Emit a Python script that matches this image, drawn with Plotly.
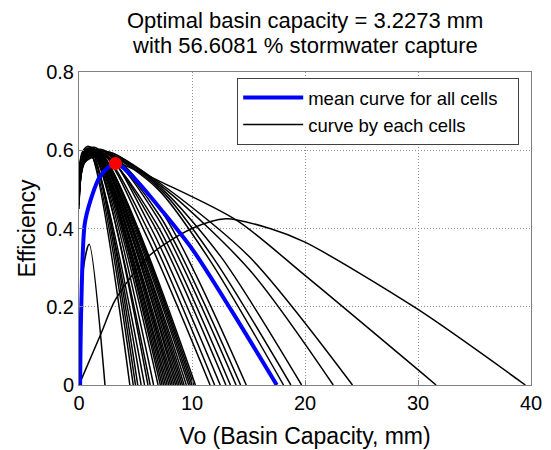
import plotly.graph_objects as go

# Knots (Vo in mm, efficiency) for each cell's efficiency curve
cell_v = [
    [0, 0.3, 0.9, 4.5],
    [0, 0.3, 1.0, 4.8],
    [0, 0.3, 1.0, 5.0],
    [0, 0.3, 1.1, 5.2],
    [0, 0.35, 1.1, 5.5],
    [0, 0.35, 1.1, 5.8],
    [0, 0.35, 1.2, 6.1],
    [0, 0.4, 1.2, 6.3],
    [0, 0.4, 1.3, 6.6],
    [0, 0.4, 1.3, 7.0],
    [0, 0.4, 1.3, 7.2],
    [0, 0.4, 1.4, 7.35],
    [0, 0.4, 1.4, 7.5],
    [0, 0.4, 1.4, 7.65],
    [0, 0.4, 1.4, 7.8],
    [0, 0.45, 1.5, 7.95],
    [0, 0.45, 1.5, 8.1],
    [0, 0.45, 1.5, 8.25],
    [0, 0.45, 1.5, 8.4],
    [0, 0.5, 1.6, 8.55],
    [0, 0.5, 1.6, 8.7],
    [0, 0.5, 1.6, 8.85],
    [0, 0.5, 1.6, 9.0],
    [0, 0.5, 1.7, 9.15],
    [0, 0.5, 1.7, 9.3],
    [0, 0.5, 1.7, 9.5],
    [0, 0.5, 1.8, 9.7],
    [0, 0.5, 1.8, 9.85],
    [0, 0.5, 1.8, 10.0],
    [0, 0.55, 1.9, 10.15],
    [0, 0.55, 1.9, 10.3],
    [0, 0.5, 2.0, 6.0, 11.6],
    [0, 0.5, 2.1, 6.2, 12.0],
    [0, 0.5, 2.2, 6.4, 12.5],
    [0, 0.55, 2.3, 6.6, 13.0],
    [0, 0.55, 2.3, 6.8, 13.4],
    [0, 0.6, 2.4, 7.0, 13.9],
    [0, 0.6, 2.5, 7.2, 14.3],
    [0, 0.6, 2.5, 7.4, 14.8],
    [0, 0.5, 2.5, 7.0, 11.6, 18.1],
    [0, 0.5, 2.6, 7.2, 12.0, 18.75],
    [0, 0.5, 2.7, 7.2, 12.5, 19.7],
    [0, 0.5, 2.7, 7.2, 15.1, 22.5],
    [0, 0.5, 2.7, 7.2, 15.1, 24.2],
    [0, 0.4, 0.8, 2.7, 7.2, 14.0, 20.0, 31.6],
    [0, 2.0, 3.2, 6.2, 10.0, 13.0, 16.9, 20.0, 29.9, 39.5],
    [0, 0.4, 0.9, 2.3],
]
cell_e = [
    [0.52, 0.59, 0.60, 0],
    [0.49, 0.58, 0.59, 0],
    [0.53, 0.595, 0.605, 0],
    [0.50, 0.585, 0.595, 0],
    [0.46, 0.57, 0.585, 0],
    [0.47, 0.57, 0.585, 0],
    [0.51, 0.59, 0.60, 0],
    [0.49, 0.58, 0.592, 0],
    [0.48, 0.58, 0.59, 0],
    [0.50, 0.585, 0.595, 0],
    [0.53, 0.595, 0.605, 0],
    [0.47, 0.575, 0.588, 0],
    [0.50, 0.585, 0.595, 0],
    [0.52, 0.59, 0.60, 0],
    [0.46, 0.575, 0.59, 0],
    [0.49, 0.58, 0.592, 0],
    [0.52, 0.595, 0.60, 0],
    [0.48, 0.578, 0.588, 0],
    [0.49, 0.58, 0.59, 0],
    [0.51, 0.588, 0.598, 0],
    [0.47, 0.575, 0.585, 0],
    [0.50, 0.585, 0.594, 0],
    [0.54, 0.60, 0.605, 0],
    [0.48, 0.578, 0.588, 0],
    [0.50, 0.585, 0.595, 0],
    [0.46, 0.572, 0.586, 0],
    [0.45, 0.57, 0.585, 0],
    [0.49, 0.582, 0.592, 0],
    [0.51, 0.59, 0.598, 0],
    [0.47, 0.576, 0.587, 0],
    [0.48, 0.58, 0.59, 0],
    [0.50, 0.585, 0.595, 0.38, 0],
    [0.47, 0.575, 0.59, 0.39, 0],
    [0.52, 0.59, 0.60, 0.40, 0],
    [0.49, 0.58, 0.59, 0.41, 0],
    [0.46, 0.57, 0.585, 0.415, 0],
    [0.51, 0.585, 0.595, 0.425, 0],
    [0.48, 0.58, 0.59, 0.43, 0],
    [0.50, 0.585, 0.595, 0.44, 0],
    [0.50, 0.585, 0.59, 0.50, 0.318, 0],
    [0.48, 0.58, 0.59, 0.50, 0.32, 0],
    [0.51, 0.585, 0.595, 0.505, 0.33, 0],
    [0.49, 0.58, 0.59, 0.51, 0.294, 0],
    [0.52, 0.59, 0.595, 0.515, 0.327, 0],
    [0.55, 0.60, 0.61, 0.58, 0.52, 0.42, 0.28, 0],
    [0, 0.135, 0.217, 0.33, 0.40, 0.425, 0.40, 0.365, 0.195, 0],
    [0, 0.30, 0.36, 0],
]

# Mean efficiency curve over all cells
mean_v = [0.1, 0.2, 0.5, 1.0, 1.9, 3.23, 5.0, 7.5, 10.1, 13.5, 17.5]
mean_e = [0.0, 0.2, 0.41, 0.47, 0.535, 0.566, 0.525, 0.44, 0.344, 0.19, 0.0]

# Optimum of the mean curve
opt_v = 3.2273
opt_capture = 56.6081

title_lines = [
    f"Optimal basin capacity = {opt_v} mm",
    f"with {opt_capture} % stormwater capture",
]

xs, ys = [], []
for v, e in zip(cell_v, cell_e):
    xs += v + [None]
    ys += e + [None]

fig = go.Figure()
fig.add_trace(go.Scatter(
    x=xs, y=ys, mode="lines", name="curve by each cells\u00a0\u00a0\u00a0",
    line=dict(color="black", width=1.5, shape="spline", smoothing=0.8),
    connectgaps=False, legendrank=2,
))
fig.add_trace(go.Scatter(
    x=mean_v, y=mean_e, mode="lines", name="mean curve for all cells\u00a0\u00a0\u00a0",
    line=dict(color="#0000ff", width=4, shape="spline", smoothing=0.8),
    legendrank=1,
))
fig.add_trace(go.Scatter(
    x=[opt_v], y=[opt_capture / 100], mode="markers", showlegend=False,
    marker=dict(symbol="circle", size=11, color="red",
                line=dict(color="red", width=2)),
))

font = "Liberation Sans, Arial, sans-serif"
axis_common = dict(
    showline=True, linecolor="#808080", linewidth=1, mirror=True,
    ticks="inside", ticklen=5, tickcolor="#808080",
    showgrid=True, gridcolor="#909090", griddash="1px,2px", gridwidth=1,
    zeroline=False, automargin=False,
    tickfont=dict(size=20, color="black", family=font),
)
fig.update_layout(
    width=551, height=450,
    margin=dict(l=79, r=20, t=72, b=65),
    paper_bgcolor="white", plot_bgcolor="white",
    font=dict(family=font, color="black"),
    xaxis=dict(range=[0, 40], tickvals=[0, 10, 20, 30, 40],
               title=dict(text="Vo (Basin Capacity, mm)", font=dict(size=23), standoff=14),
               **axis_common),
    yaxis=dict(range=[0, 0.8], tickvals=[0, 0.2, 0.4, 0.6, 0.8],
               ticktext=["0", "0.2", "0.4", "0.6", "0.8"],
               title=dict(text="Efficiency", font=dict(size=23), standoff=4),
               **axis_common),
    legend=dict(
        x=0.35, y=0.981, xanchor="left", yanchor="top",
        bgcolor="white", bordercolor="#404040", borderwidth=1,
        font=dict(size=18.5, family=font, color="black"),
        itemwidth=60,
    ),
    showlegend=True,
)

# Two-line title above the axes
for text, ypx in zip(title_lines, [20, 45]):
    fig.add_annotation(
        text=text, showarrow=False,
        xref="paper", x=0.5, xanchor="center",
        yref="paper", y=1 + (72 - ypx) / 313, yanchor="middle",
        font=dict(size=22, family=font, color="black"),
    )

fig.write_html("out.html")
